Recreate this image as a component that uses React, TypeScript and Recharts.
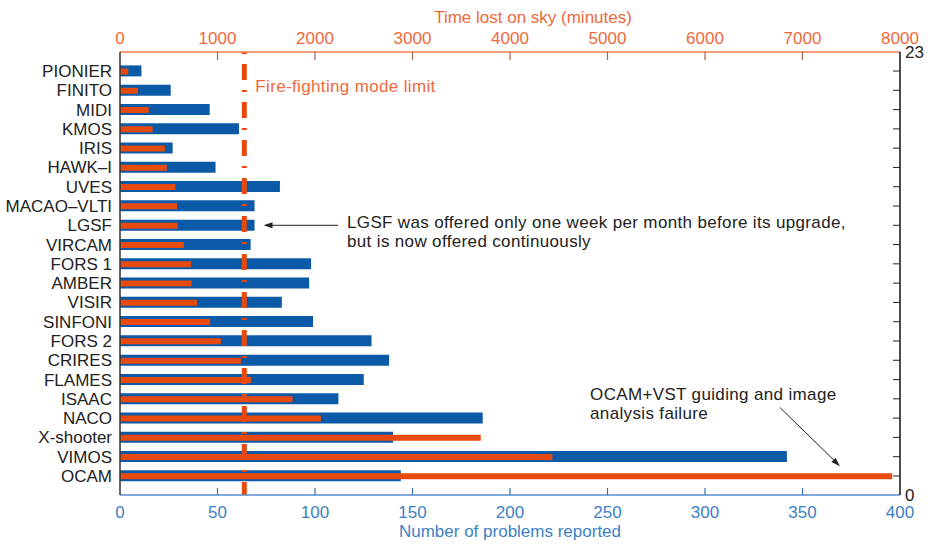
import React from "react"
import {
    BarChart,
    Bar,
    XAxis,
    YAxis,
    ReferenceLine,
} from "recharts"

const categories = [
    "PIONIER", "FINITO", "MIDI", "KMOS", "IRIS", "HAWK–I", "UVES",
    "MACAO–VLTI", "LGSF", "VIRCAM", "FORS 1", "AMBER", "VISIR",
    "SINFONI", "FORS 2", "CRIRES", "FLAMES", "ISAAC", "NACO",
    "X-shooter", "VIMOS", "OCAM",
]

// number of problems reported (bottom axis)
const problems = [
    11, 26, 46, 61, 27, 49, 82, 69, 69, 67, 98, 97, 83, 99, 129, 138,
    125, 112, 186, 140, 342, 144,
]

// time lost on sky in minutes (top axis)
const timeLost = [
    85, 185, 295, 335, 460, 480, 570, 585, 590, 655, 730, 735, 790, 925,
    1035, 1240, 1345, 1770, 2060, 3700, 4435, 7920,
]

const problemTicks = [0, 50, 100, 150, 200, 250, 300, 350, 400]
const timeTicks = [0, 1000, 2000, 3000, 4000, 5000, 6000, 7000, 8000]
const rowCountLabels = ["23", "0"]

const fireFightingLimit = 1275

const data = categories.map((name, i) => ({
    name,
    problems: problems[i],
    time: timeLost[i],
}))

const FONT = "'Liberation Sans', Arial, sans-serif"
const BLUE = "#0a5aa7"
const ORANGE = "#e84a0e"
const ORANGE_TEXT = "#ef693a"
const BLUE_TEXT = "#3d7fc4"
const FS = 17
const PAD = { top: 9.4, bottom: 9.4 }

function BottomTick(props: any) {
    const { x, y, payload } = props
    const v = payload.value
    return (
        <g>
            {v !== 0 && v !== 400 && (
                <line x1={x} y1={y} x2={x} y2={y - 7} stroke="#3a6fb0" strokeWidth={1.2} />
            )}
            <text
                x={x}
                y={y + 23}
                textAnchor="middle"
                fill={BLUE_TEXT}
                fontSize={FS}
                fontFamily={FONT}
            >
                {v}
            </text>
        </g>
    )
}

function TopTick(props: any) {
    const { x, y, payload } = props
    const v = payload.value
    return (
        <g>
            {v !== 0 && v !== 8000 && (
                <line x1={x} y1={y} x2={x} y2={y + 8} stroke="#a8624f" strokeWidth={1.2} />
            )}
            <text
                x={x}
                y={y - 8}
                textAnchor="middle"
                fill={ORANGE_TEXT}
                fontSize={FS}
                fontFamily={FONT}
            >
                {v}
            </text>
        </g>
    )
}

// right axis: a tick at every row, labels only at the ends
function RightTick(props: any) {
    const { x, y } = props
    return <line x1={x - 7} y1={y} x2={x} y2={y} stroke="#222" strokeWidth={1} />
}

function RightLabels(props: any) {
    const vb = props.viewBox
    return (
        <g>
            <text x={vb.x + 5} y={vb.y + 6} fill="#222" fontSize={FS} fontFamily={FONT}>
                {rowCountLabels[0]}
            </text>
            <text x={vb.x + 5} y={vb.y + vb.height + 6} fill="#222" fontSize={FS} fontFamily={FONT}>
                {rowCountLabels[1]}
            </text>
        </g>
    )
}

function arrowHead(x1: number, y1: number, x2: number, y2: number) {
    const a = Math.atan2(y2 - y1, x2 - x1)
    const len = 9
    const w = 3
    const bx = x2 - len * Math.cos(a)
    const by = y2 - len * Math.sin(a)
    const px = -Math.sin(a) * w
    const py = Math.cos(a) * w
    return `${x2},${y2} ${bx + px},${by + py} ${bx - px},${by - py}`
}

const noteStyle = {
    fill: "#222",
    fontSize: FS,
    fontFamily: FONT,
    letterSpacing: 0.35,
}

function FireLimit(props: any) {
    const { x1, y1, y2 } = props
    const top = Math.min(y1, y2)
    const bottom = Math.max(y1, y2)
    return (
        <g>
            <line
                x1={x1}
                y1={top}
                x2={x1}
                y2={bottom}
                stroke={ORANGE}
                strokeWidth={5}
                strokeDasharray="2 10 16 10"
            />
            <text x={x1 + 11} y={top + 39.5} style={{ ...noteStyle, fill: ORANGE_TEXT }}>
                Fire-fighting mode limit
            </text>
        </g>
    )
}

function LgsfArrow(props: any) {
    const { x1, y1, x2, y2 } = props
    return (
        <g>
            <line x1={x1} y1={y1} x2={x2 + 6} y2={y2} stroke="#222" strokeWidth={1} />
            <polygon points={arrowHead(x1, y1, x2, y2)} fill="#222" />
            <text x={x1 + 9} y={y1 + 3} style={noteStyle}>
                LGSF was offered only one week per month before its upgrade,
            </text>
            <text x={x1 + 9} y={y1 + 22} style={noteStyle}>
                but is now offered continuously
            </text>
        </g>
    )
}

function OcamArrow(props: any) {
    // starts just above the NACO row, ends between VIMOS and OCAM
    const x1 = props.x1
    const y1 = props.y1 - 10.5
    const x2 = props.x2
    const y2 = props.y2 + 9.5
    return (
        <g>
            <line x1={x1} y1={y1} x2={x2 - 4} y2={y2 - 4} stroke="#222" strokeWidth={1} />
            <polygon points={arrowHead(x1, y1, x2, y2)} fill="#222" />
            <text x={x1 - 190} y={y1 - 8} style={noteStyle}>
                OCAM+VST guiding and image
            </text>
            <text x={x1 - 190} y={y1 + 11} style={noteStyle}>
                analysis failure
            </text>
        </g>
    )
}

export default function App() {
    return (
        <div style={{ position: "absolute", left: 0, top: 0, background: "#fff" }}>
            <BarChart
                width={930}
                height={544}
                data={data}
                layout="vertical"
                margin={{ top: 22, right: 5, bottom: 19, left: 10 }}
            >
                <XAxis
                    xAxisId="prob"
                    type="number"
                    orientation="bottom"
                    domain={[0, 400]}
                    ticks={problemTicks}
                    allowDataOverflow
                    height={30}
                    tickSize={0}
                    tickMargin={0}
                    tickLine={false}
                    axisLine={{ stroke: "#5b8ed0", strokeWidth: 1.5 }}
                    tick={<BottomTick />}
                    label={{
                        content: (p: any) => (
                            <text
                                x={p.viewBox.x + p.viewBox.width / 2}
                                y={p.viewBox.y + 41.5}
                                textAnchor="middle"
                                fill={BLUE_TEXT}
                                fontSize={FS}
                                fontFamily={FONT}
                            >
                                Number of problems reported
                            </text>
                        ),
                    }}
                />
                <XAxis
                    xAxisId="time"
                    type="number"
                    orientation="top"
                    domain={[0, 8000]}
                    ticks={timeTicks}
                    allowDataOverflow
                    height={30}
                    tickSize={0}
                    tickMargin={0}
                    tickLine={false}
                    axisLine={{ stroke: "#f07a4c", strokeWidth: 1.5 }}
                    tick={<TopTick />}
                    label={{
                        content: (p: any) => (
                            <text
                                x={p.viewBox.x + p.viewBox.width / 2 + 23}
                                y={p.viewBox.y + 1}
                                textAnchor="middle"
                                fill={ORANGE_TEXT}
                                fontSize={FS}
                                fontFamily={FONT}
                            >
                                Time lost on sky (minutes)
                            </text>
                        ),
                    }}
                />
                <YAxis
                    yAxisId="cat"
                    type="category"
                    dataKey="name"
                    width={110}
                    padding={PAD}
                    tickSize={0}
                    tickMargin={8}
                    tickLine={false}
                    axisLine={{ stroke: "#333", strokeWidth: 1.5 }}
                    tick={{ fill: "#222", fontSize: FS, fontFamily: FONT }}
                    interval={0}
                />
                <YAxis
                    yAxisId="cat2"
                    type="category"
                    dataKey="name"
                    padding={PAD}
                    hide
                />
                <YAxis
                    yAxisId="rows"
                    type="category"
                    dataKey="name"
                    orientation="right"
                    padding={PAD}
                    width={25}
                    tickSize={0}
                    tickMargin={0}
                    tickLine={false}
                    axisLine={{ stroke: "#111", strokeWidth: 1.5 }}
                    tick={<RightTick />}
                    interval={0}
                    label={{ content: (p: any) => <RightLabels {...p} /> }}
                />
                <YAxis
                    yAxisId="full"
                    type="number"
                    domain={[0, 1]}
                    hide
                />
                <Bar
                    dataKey="problems"
                    xAxisId="prob"
                    yAxisId="cat"
                    fill={BLUE}
                    barSize={11}
                    isAnimationActive={false}
                />
                <Bar
                    dataKey="time"
                    xAxisId="time"
                    yAxisId="cat2"
                    fill={ORANGE}
                    barSize={6}
                    isAnimationActive={false}
                />
                <ReferenceLine
                    xAxisId="time"
                    yAxisId="full"
                    x={fireFightingLimit}
                    shape={<FireLimit />}
                />
                <ReferenceLine
                    xAxisId="prob"
                    yAxisId="cat"
                    segment={[
                        { x: 111.8, y: "LGSF" },
                        { x: 73.6, y: "LGSF" },
                    ]}
                    shape={<LgsfArrow />}
                />
                <ReferenceLine
                    xAxisId="prob"
                    yAxisId="cat"
                    segment={[
                        { x: 338.5, y: "NACO" },
                        { x: 369.2, y: "VIMOS" },
                    ]}
                    shape={<OcamArrow />}
                />
            </BarChart>
        </div>
    )
}
